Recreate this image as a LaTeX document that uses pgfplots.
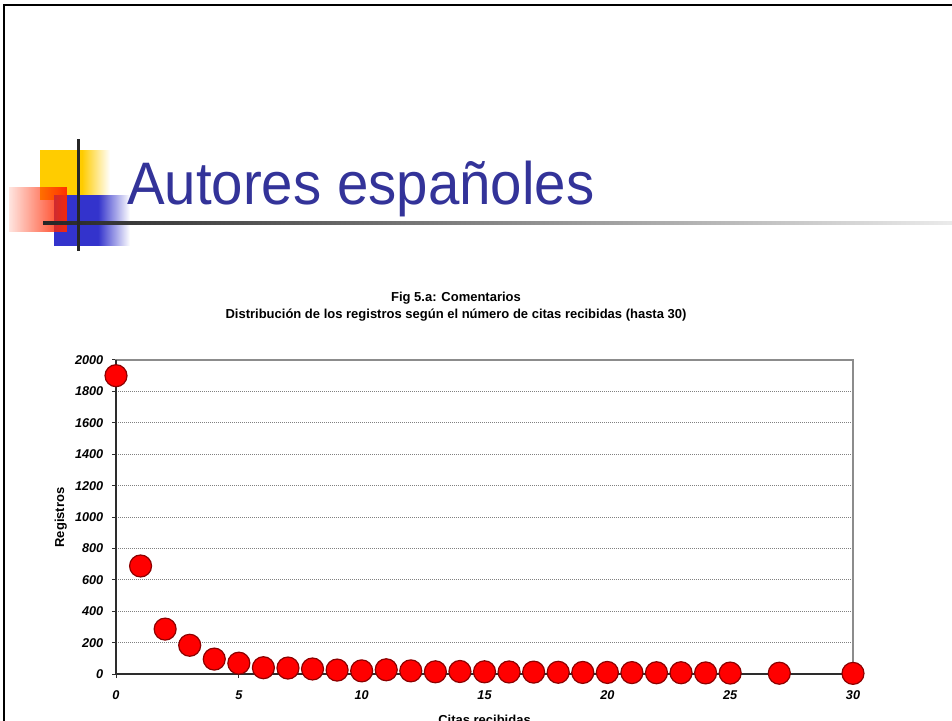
\documentclass[border=0pt]{standalone}
\usepackage{graphicx}
\usepackage{pgfplots}
\pgfplotsset{compat=1.18}
\usepackage{fontspec}
\setmainfont{Liberation Sans}
\usetikzlibrary{fadings}
\definecolor{titleblue}{RGB}{51,51,153}
\definecolor{logoyellow}{RGB}{255,204,0}
\definecolor{logoblue}{RGB}{51,51,204}
\definecolor{logored}{RGB}{255,40,0}
\definecolor{markred}{RGB}{255,0,0}
\definecolor{markedge}{RGB}{140,0,0}
\definecolor{axisdark}{RGB}{45,45,45}
\definecolor{framegray}{RGB}{140,140,140}
\tikzfading[name=fadeR, left color=transparent!0, right color=transparent!100]
\tikzfading[name=redfade, left color=transparent!88, right color=transparent!5]

\pgfplotstableread{
x y
0 1900
1 688
2 286
3 183
4 95
5 69
6 40
7 38
8 32
9 25
10 20
11 27
12 20
13 14
14 16
15 14
16 13
17 12
18 11
19 10
20 10
21 9
22 8
23 8
24 7
25 6
27 5
30 4
}\datatable

\begin{document}
\begin{tikzpicture}[x=1pt,y=1pt]
\path[use as bounding box] (0,0) rectangle (952,720);
% slide border
\draw[black, line width=2pt] (3.5,-20) -- (3.5,714.5) -- (990,714.5);
% logo
\fill[logoyellow] (40,520) rectangle (82,570);
\fill[logoyellow, path fading=fadeR] (82,520) rectangle (110,570);
\fill[logoblue] (54,474) rectangle (98,525);
\fill[logoblue, path fading=fadeR] (98,474) rectangle (130,525);
\fill[logored, path fading=redfade] (9,488) rectangle (67,533);
\shade[left color=black!85, right color=black!8] (43,495.5) rectangle (952,498.5);
\fill[black!85] (76.5,469) rectangle (79.5,581);
% slide title
\node[anchor=base west, text=titleblue, inner sep=0pt, font=\fontsize{60}{60}\selectfont] at (127,515) {\scalebox{0.94}[1]{Autores españoles}};
% chart title
\node[anchor=base, inner sep=0pt, font=\bfseries\fontsize{13}{15}\selectfont] at (456,418.3) {Fig 5.a: Comentarios};
\node[anchor=base, inner sep=0pt, font=\bfseries\fontsize{13}{15}\selectfont] at (456,401.3) {Distribución de los registros según el número de citas recibidas (hasta 30)};
% axis labels
\node[rotate=90, inner sep=0pt, font=\bfseries\fontsize{13}{15}\selectfont] at (60.7,202.5) {Registros};
\node[anchor=base, inner sep=0pt, font=\bfseries\fontsize{13}{15}\selectfont] at (484.5,-4) {Citas recibidas};

\begin{axis}[
  at={(116pt,46pt)}, anchor=south west,
  scale only axis, width=737pt, height=314pt,
  xmin=0, xmax=30, ymin=0, ymax=2000,
  xtick={0,5,...,30}, ytick={0,200,...,2000},
  xtick pos=bottom, ytick pos=left,
  tick align=outside, major tick length=4pt,
  tick style={axisdark, line width=1pt},
  ymajorgrids,
  grid style={gray, dash pattern=on 1pt off 1pt, line width=0.9pt},
  axis line style={framegray, line width=1.6pt},
  ticklabel style={font=\bfseries\itshape\fontsize{12.7}{14}\selectfont},
  typeset ticklabels with strut,
  /pgf/number format/assume math mode=true,
  /pgf/number format/1000 sep={},
  yticklabel style={inner sep=0pt, xshift=-8.5pt, yshift=-1.7pt},
  xticklabel style={inner sep=0pt, yshift=-11pt},
  clip=false,
]
\draw[axisdark, line width=1.8pt] (rel axis cs:0,1) -- (rel axis cs:0,0) -- (rel axis cs:1,0);
\addplot[only marks, mark=*, mark size=11pt, mark options={fill=markred, draw=markedge, line width=1.2pt}] table[x=x, y=y] {\datatable};
\end{axis}
\end{tikzpicture}
\end{document}
